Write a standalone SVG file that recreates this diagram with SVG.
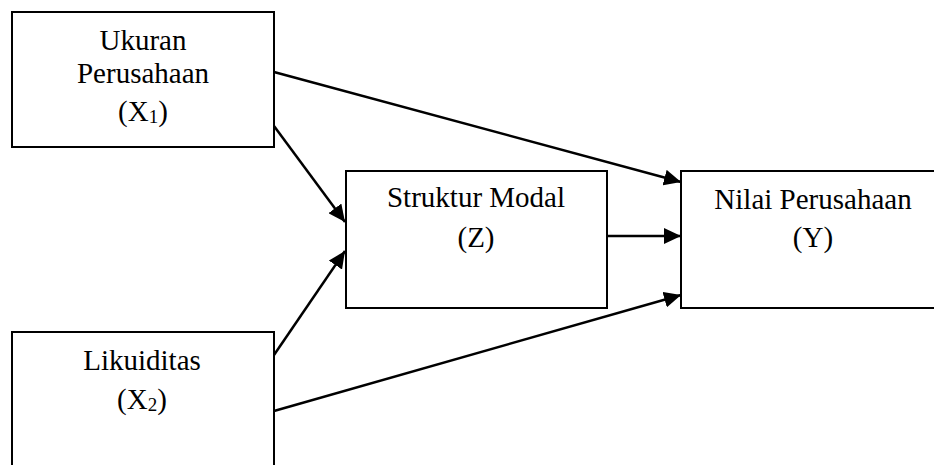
<svg xmlns="http://www.w3.org/2000/svg" width="934" height="465" viewBox="0 0 934 465">
  <style>
    .box { fill: #ffffff; stroke: #000000; stroke-width: 2; }
    .lbl { font-family: "Liberation Serif", "Times New Roman", serif; font-size: 29px; fill: #000000; text-anchor: middle; }
    .sub { font-size: 19px; }
    .edge { fill: none; stroke: #000000; stroke-width: 2.5; marker-end: url(#arrow); }
  </style>
  <defs>
    <marker id="arrow" markerUnits="userSpaceOnUse" markerWidth="17" markerHeight="16" refX="17" refY="8" orient="auto">
      <path d="M0,0 L17,8 L0,16 z" fill="#000000"/>
    </marker>
  </defs>
  <rect width="934" height="465" fill="#ffffff"/>

  <g id="node-x1">
    <rect class="box" x="12" y="12" width="262" height="135"/>
    <text class="lbl" x="143" y="50">Ukuran</text>
    <text class="lbl" x="143" y="83">Perusahaan</text>
    <text class="lbl" x="143" y="121">(X<tspan class="sub" dy="2">1</tspan><tspan dy="-2">)</tspan></text>
  </g>

  <g id="node-z">
    <rect class="box" x="346" y="171" width="261" height="137"/>
    <text class="lbl" x="476" y="207">Struktur Modal</text>
    <text class="lbl" x="476" y="247">(Z)</text>
  </g>

  <g id="node-y">
    <rect class="box" x="681" y="171" width="265" height="137"/>
    <text class="lbl" x="813" y="209">Nilai Perusahaan</text>
    <text class="lbl" x="813" y="247">(Y)</text>
  </g>

  <g id="node-x2">
    <rect class="box" x="12" y="332" width="262" height="150"/>
    <text class="lbl" x="142" y="370">Likuiditas</text>
    <text class="lbl" x="142" y="409">(X<tspan class="sub" dy="2">2</tspan><tspan dy="-2">)</tspan></text>
  </g>

  <g id="connectors">
    <line class="edge" x1="274" y1="72" x2="681" y2="182"/>
    <line class="edge" x1="274" y1="126" x2="345" y2="222"/>
    <line class="edge" x1="274" y1="355" x2="345" y2="251"/>
    <line class="edge" x1="274" y1="411" x2="681" y2="295"/>
    <line class="edge" x1="607" y1="236" x2="681" y2="236"/>
  </g>
</svg>
